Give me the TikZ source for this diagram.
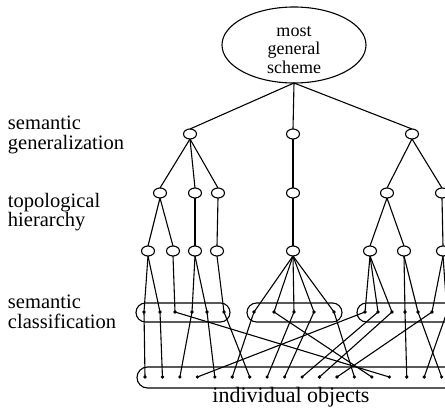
\documentclass[tikz,border=0pt]{standalone}
\usepackage{fontspec}
\setmainfont{Liberation Serif}
\usetikzlibrary{shapes.geometric}
\begin{document}
\begin{tikzpicture}[x=1pt,y=-1pt,
  every node/.style={inner sep=0pt,outer sep=0pt},
  link/.style={line width=1.1pt},
  knot/.style={draw,ellipse,line width=1.1pt,minimum width=13pt,minimum height=10pt,fill=white},
  obj/.style={circle,fill,minimum size=3.6pt},
  band/.style={draw,line width=1.1pt,rounded corners=9.5pt},
  lbl/.style={align=left,anchor=west,font=\fontsize{20.5}{19.5}\selectfont},
]
\useasboundingbox (0,0) rectangle (445,409);
\begin{scope}
\clip (0,0) rectangle (445,409);

% root scheme
\node[draw,ellipse,line width=1.1pt,minimum width=144pt,minimum height=76pt] (top) at (294,45) {};
\node[align=center,font=\fontsize{18}{18.5}\selectfont] (toptext) at (294,50) {most\\general\\scheme};

% row labels
\node[lbl] (lgen) at (8,135) {semantic\\generalization};
\node[lbl] (ltop) at (8,212) {topological\\hierarchy};
\node[lbl] (lcls) at (8,312) {semantic\\classification};
\node[anchor=base,font=\fontsize{22}{22}\selectfont] (lobj) at (291,402) {individual objects};

% semantic generalization
\node[knot] (g1) at (190,134) {};
\node[knot] (g2) at (293,134) {};
\node[knot] (g3) at (412,134) {};
% topological hierarchy
\node[knot] (t1) at (160,193) {};
\node[knot] (t2) at (195,193) {};
\node[knot] (t3) at (218,193) {};
\node[knot] (t4) at (293,193) {};
\node[knot] (t5) at (387,193) {};
\node[knot] (t6) at (442,193) {};
\node[knot] (h1) at (148,251) {};
\node[knot] (h2) at (173,251) {};
\node[knot] (h3) at (195,251) {};
\node[knot] (h4) at (217,251) {};
\node[knot] (h5) at (293,251) {};
\node[knot] (h6) at (370,251) {};
\node[knot] (h7) at (404,251) {};
\node[knot] (h8) at (443,251) {};

% classification bands
\draw[band] (136,303) rectangle (230,322);
\draw[band] (247,303) rectangle (342,322);
\draw[band] (357,303) rectangle (490,322);
% individual objects band
\draw[band,rounded corners=10.5pt] (137,367) rectangle (490,388);

% classification points
\foreach \n/\x in {1/144,2/160,3/175,4/192,5/207,6/224}
  \node[obj] (L\n) at (\x,312) {};
\foreach \n/\x in {1/254,2/274,3/294,4/314,5/334}
  \node[obj] (M\n) at (\x,312) {};
\foreach \n/\x in {1/365,2/378,3/392,4/405,5/418,6/432,7/447}
  \node[obj] (R\n) at (\x,312) {};
% individual objects
\foreach \n in {1,...,18}
  \node[obj] (b\n) at ({145+(\n-1)*17.45},377) {};

% tree edges
\draw[link] (top.south) -- (g1.north);
\draw[link] (top.south) -- (g2.north);
\draw[link] (top.south) -- (g3.north);
\draw[link] (g1.south) -- (t1.north);
\draw[link] (g1.south) -- (t2.north);
\draw[link] (g1.south) -- (t3.north);
\draw[link] (g2.south) -- (t4.north);
\draw[link] (g3.south) -- (t5.north);
\draw[link] (g3.south) -- (t6.north);
\draw[link] (t1.south) -- (h1.north);
\draw[link] (t1.south) -- (h2.north);
\draw[link] (t2.south) -- (h3.north);
\draw[link] (t3.south) -- (h4.north);
\draw[link] (t4.south) -- (h5.north);
\draw[link] (t5.south) -- (h6.north);
\draw[link] (t5.south) -- (h7.north);
\draw[link] (t6.south) -- (h8.north);

% hierarchy to classification
\foreach \h/\c in {h1/L1,h1/L2,h2/L3,h3/L4,h3/L5,h4/L6,
                   h5/M1,h5/M2,h5/M3,h5/M4,h5/M5,
                   h6/R1,h6/R2,h6/R3,h7/R4,h7/R5,h8/R6,h8/R7}
  \draw[link] (\h.south) -- (\c.center);

% classification to individual objects
\foreach \c/\b in {L1/b1,L2/b2,L3/b15,L4/b3,L5/b5,L6/b7,
                   M1/b6,M2/b14,M3/b8,M4/b9,M5/b13,
                   R1/b4,R2/b10,R3/b11,R4/b16,R5/b18,R6/b12,R7/b17}
  \draw[link] (\c.center) -- (\b.center);
\end{scope}
\end{tikzpicture}
\end{document}
